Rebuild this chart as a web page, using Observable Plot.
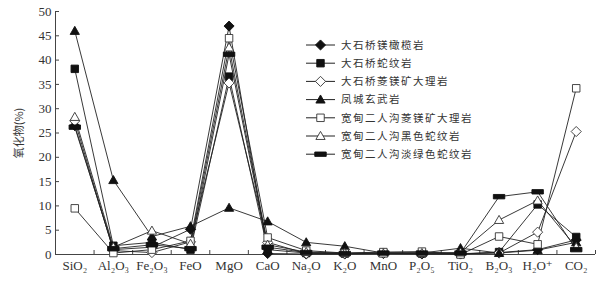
<!DOCTYPE html>
<html><head><meta charset="utf-8">
<script src="https://cdn.jsdelivr.net/npm/d3@7"></script>
<script src="https://cdn.jsdelivr.net/npm/@observablehq/plot@0.6"></script>
<style>body{margin:0;background:#fff}#chart{width:614px;height:289px}</style>
</head><body><div id="chart"></div>
<script>
const categories = ["SiO₂","Al₂O₃","Fe₂O₃","FeO","MgO","CaO","Na₂O","K₂O","MnO","P₂O₅","TiO₂","B₂O₃","H₂O⁺","CO₂"];
const seriesNames = ["大石桥镁橄榄岩","大石桥蛇纹岩","大石桥菱镁矿大理岩","凤城玄武岩","宽甸二人沟菱镁矿大理岩","宽甸二人沟黑色蛇纹岩","宽甸二人沟淡绿色蛇纹岩"];
const dsqMgOlivine   = [26.5, 1.0, 1.5, 5.2, 47.0, 0.2, 0.1, 0.1, 0.2, 0.1, 0.1, 0.4, 1.0, 3.0];
const dsqSerpentine  = [38.2, 1.8, 2.5, 1.0, 36.6, 1.0, 0.3, 0.2, 0.3, 0.2, 0.1, 0.5, 10.3, 3.6];
const dsqMagnesite   = [27.5, 0.8, 0.4, 2.6, 35.3, 2.5, 0.2, 0.2, 0.3, 0.3, 0.2, 0.3, 4.6, 25.3];
const fcBasalt       = [46.0, 15.3, 3.7, 5.8, 9.6, 6.8, 2.5, 1.7, 0.3, 0.3, 1.3, 0.3, 0.9, 2.5];
const kdMagnesite    = [9.5, 0.3, 1.0, 2.8, 44.5, 3.5, 0.8, 0.3, 0.5, 0.6, 0.0, 3.7, 2.1, 34.2];
const kdBlackSerp    = [28.3, 1.5, 4.9, 2.2, 42.6, 2.0, 0.5, 0.3, 0.2, 0.3, 0.4, 7.1, 11.1, 1.5];
const kdGreenSerp    = [26.2, 1.2, 2.0, 1.2, 41.2, 1.5, 0.4, 0.2, 0.3, 0.3, 0.3, 11.9, 12.9, 1.0];
const seriesValues = [dsqMgOlivine, dsqSerpentine, dsqMagnesite, fcBasalt, kdMagnesite, kdBlackSerp, kdGreenSerp];
const yTicks = [0,5,10,15,20,25,30,35,40,45,50];

// marker shapes (styles)
const R = (s) => Math.sqrt(s / Math.PI);
const symDiamond = {draw(c, s){const h=R(s)*1.15; c.moveTo(0,-h); c.lineTo(h,0); c.lineTo(0,h); c.lineTo(-h,0); c.closePath();}};
const symSquare = {draw(c, s){const h=R(s)*0.85; c.rect(-h,-h,2*h,2*h);}};
const symTriangle = {draw(c, s){const h=R(s)*1.05; c.moveTo(0,-h); c.lineTo(h,h*0.75); c.lineTo(-h,h*0.75); c.closePath();}};
const symBar = {draw(c, s){const h=R(s); c.rect(-h*1.3,-h*0.5,h*2.6,h);}};
const markerStyles = [
  {symbol: symDiamond, fill: "#111", stroke: "#111"},
  {symbol: symSquare, fill: "#111", stroke: "#111"},
  {symbol: symDiamond, fill: "#fff", stroke: "#333"},
  {symbol: symTriangle, fill: "#111", stroke: "#111"},
  {symbol: symSquare, fill: "#fff", stroke: "#333"},
  {symbol: symTriangle, fill: "#fff", stroke: "#333"},
  {symbol: symBar, fill: "#111", stroke: "#111"}
];
const dotR = 4.4;

const rows = [];
seriesNames.forEach((name, si) => {
  seriesValues[si].forEach((v, i) => rows.push({series: name, si, i, cat: categories[i], value: v}));
});

const marks = [];
seriesNames.forEach((name, si) => {
  const d = rows.filter(r => r.si === si);
  marks.push(Plot.line(d, {x: "i", y: "value", stroke: "#222", strokeWidth: 0.9}));
});
seriesNames.forEach((name, si) => {
  const d = rows.filter(r => r.si === si);
  const st = markerStyles[si];
  marks.push(Plot.dot(d, {x: "i", y: "value", symbol: st.symbol, r: dotR, fill: st.fill, stroke: st.stroke, strokeWidth: 0.9}));
});

const chart = Plot.plot({
  width: 614, height: 289,
  marginLeft: 55, marginRight: 19, marginTop: 11, marginBottom: 35,
  style: {fontFamily: "'Liberation Serif', 'DejaVu Serif', serif", fontSize: "13px", color: "#333", background: "#fff"},
  x: {domain: [-0.5, categories.length - 0.5], axis: null},
  y: {domain: [0, 50], axis: null},
  marks: [
    Plot.ruleY([0], {stroke: "#444"}),
    Plot.ruleX([-0.5], {stroke: "#444"}),
    Plot.axisY({ticks: yTicks, tickSize: -4, tickPadding: 8, stroke: "#444", label: "氧化物(%)", labelAnchor: "center", labelArrow: "none", labelOffset: 40, fontFamily: "'Liberation Serif', serif"}),
    Plot.axisX({ticks: d3.range(categories.length), tickSize: 0, tickPadding: 6, tickFormat: i => categories[i], label: null}),
    Plot.axisX({ticks: d3.range(categories.length + 1).map(k => k - 0.5), tickSize: -4, tickFormat: null, text: null, label: null, stroke: "#444"}),
    ...marks
  ]
});
document.getElementById("chart").appendChild(chart);

// legend inside plot area
const svg = d3.select(chart);
svg.selectAll("[aria-label='y-axis label'] text").style("font-family", "'Noto Sans CJK SC', sans-serif").style("font-size", "11px");
const lg = svg.append("g").attr("transform", "translate(306,45)").attr("text-anchor", "start");
seriesNames.forEach((name, si) => {
  const g = lg.append("g").attr("transform", `translate(0,${si * 18.2})`);
  const st = markerStyles[si];
  g.append("line").attr("x1", 0).attr("x2", 29).attr("stroke", "#222").attr("stroke-width", 1);
  g.append("path").attr("transform", "translate(14.5,0)").attr("d", d3.symbol(st.symbol, Math.PI * dotR * dotR)()).attr("fill", st.fill).attr("stroke", st.stroke).attr("stroke-width", 0.9);
  g.append("text").attr("x", 35).attr("dy", "0.36em").attr("text-anchor", "start").text(name)
    .style("font-family", "'Noto Sans CJK SC', sans-serif").style("font-size", "10.5px").style("letter-spacing", "1.5px").attr("fill", "#333");
});
</script></body></html>
